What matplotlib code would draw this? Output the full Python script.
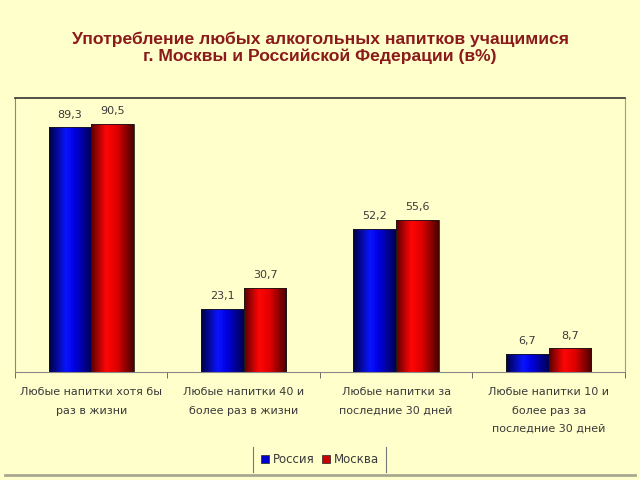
import numpy as np
import matplotlib.pyplot as plt
from matplotlib.colors import LinearSegmentedColormap
from matplotlib.lines import Line2D
from matplotlib.patches import Rectangle

categories = ["Любые напитки хотя бы\nраз в жизни",
              "Любые напитки 40 и\nболее раз в жизни",
              "Любые напитки за\nпоследние 30 дней",
              "Любые напитки 10 и\nболее раз за\nпоследние 30 дней"]
russia = [89.3, 23.1, 52.2, 6.7]
moscow = [90.5, 30.7, 55.6, 8.7]
series_names = ["Россия", "Москва"]
value_labels_r = ["89,3", "23,1", "52,2", "6,7"]
value_labels_m = ["90,5", "30,7", "55,6", "8,7"]

bg = "#FFFFCC"
title_color = "#8B1A1A"
text_color = "#3a3a3a"

blue_cmap = LinearSegmentedColormap.from_list(
    "b", [(0, "#000040"), (0.4, "#0A14FF"), (0.6, "#0000E0"), (1, "#000050")])
red_cmap = LinearSegmentedColormap.from_list(
    "r", [(0, "#580000"), (0.35, "#FF0606"), (0.6, "#E00000"), (1, "#480000")])

fig = plt.figure(figsize=(6.4, 4.8), dpi=100, facecolor=bg)
ax = fig.add_axes([0.0234, 0.225, 0.953, 0.571])
ax.set_facecolor(bg)

fig.text(0.5, 0.9, "Употребление любых алкогольных напитков учащимися\nг. Москвы и Российской Федерации (в%)",
         ha="center", va="center", fontsize=12.6, fontweight="bold", color=title_color,
         family="Liberation Sans", linespacing=1.15)

x = np.arange(len(categories))
w = 0.28
grad = np.linspace(0, 1, 256).reshape(1, -1)


def gradient_bars(xs, vals, cmap):
    bars = ax.bar(xs, vals, w, color="none", edgecolor="#1a1a1a", linewidth=0.6, zorder=3)
    for b in bars:
        x0, y0 = b.get_x(), b.get_y()
        im = ax.imshow(grad, cmap=cmap, extent=[x0, x0 + b.get_width(), y0, y0 + b.get_height()],
                       aspect="auto", zorder=2, interpolation="bicubic")
        im.set_clip_path(b)
    return bars


br = gradient_bars(x - w / 2, russia, blue_cmap)
bm = gradient_bars(x + w / 2, moscow, red_cmap)

for b, t in zip(br, value_labels_r):
    ax.annotate(t, (b.get_x() + b.get_width() / 2, b.get_height()), xytext=(0, 5.5),
                textcoords="offset points", ha="center", va="bottom", fontsize=8, color=text_color)
for b, t in zip(bm, value_labels_m):
    ax.annotate(t, (b.get_x() + b.get_width() / 2, b.get_height()), xytext=(0, 5.5),
                textcoords="offset points", ha="center", va="bottom", fontsize=8, color=text_color)

ax.set_xlim(-0.5, len(categories) - 0.5)
ax.set_ylim(0, 100)
ax.set_yticks([])
ax.set_xticks(x)
ax.set_xticklabels(categories, fontsize=8, color=text_color, linespacing=2.05)
ax.tick_params(axis="x", which="major", length=0, pad=11)
ax.set_xticks(np.arange(-0.5, len(categories)), minor=True)
ax.tick_params(axis="x", which="minor", length=4, color="#555555", direction="out")

ax.spines["top"].set_color("#333333")
ax.spines["top"].set_linewidth(1.2)
ax.spines["left"].set_color("#888888")
ax.spines["left"].set_linewidth(0.8)
ax.spines["right"].set_color("#A0A080")
ax.spines["right"].set_linewidth(0.8)
ax.spines["bottom"].set_color("#888888")
ax.spines["bottom"].set_linewidth(0.8)

# legend
handles = [Rectangle((0, 0), 1, 1, facecolor="#0000CC", edgecolor="#222222", linewidth=0.5),
           Rectangle((0, 0), 1, 1, facecolor="#CC0000", edgecolor="#222222", linewidth=0.5)]
leg = fig.legend(handles, series_names, loc="center", bbox_to_anchor=(0.5, 0.042), ncol=2,
                 fontsize=8.5, frameon=False, handlelength=0.7, handleheight=0.7,
                 handletextpad=0.3, columnspacing=0.6, labelcolor=text_color)
fig.add_artist(Line2D([0.396, 0.396], [0.017, 0.068], color="#777777", linewidth=0.8))
fig.add_artist(Line2D([0.603, 0.603], [0.017, 0.068], color="#777777", linewidth=0.8))

# outer bottom border
fig.add_artist(Line2D([0.008, 0.992], [0.01, 0.01], color="#A8A890", linewidth=2))

fig.savefig("out.png", dpi=100, facecolor=bg)
